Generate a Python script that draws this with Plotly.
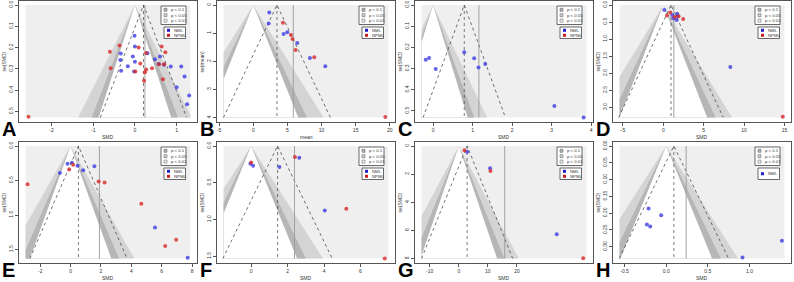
import plotly.graph_objects as go

W, H = 794, 282

# ---------------- data ----------------
# Panel A
A_nml_x = [-0.01, 0.0, -0.34, -0.35, -0.05, 0.0, -0.17, -0.33, -0.02, 0.30, 0.48, 0.60, 0.57, 0.86, 1.11, 1.19, 1.00, 1.30, 1.25, 0.70]
A_nml_se = [0.144, 0.195, 0.228, 0.258, 0.242, 0.266, 0.288, 0.308, 0.312, 0.227, 0.255, 0.242, 0.277, 0.289, 0.289, 0.336, 0.386, 0.425, 0.466, 0.280]
A_npml_x = [-0.37, -0.60, -0.58, 0.09, 0.27, 0.13, 0.27, 0.24, 0.41, 0.22, 0.64, 0.73, 0.58, 0.70, 0.67, 0.01, -2.55]
A_npml_se = [0.190, 0.219, 0.297, 0.200, 0.225, 0.275, 0.303, 0.316, 0.297, 0.355, 0.195, 0.222, 0.278, 0.278, 0.348, 0.312, 0.525]
A_est, A_adj = 0.206, 0.24
A_xlim, A_semax = [-2.62, 1.33], 0.528
A_xticks, A_xtext = [-2, -1, 0, 1], ["-2", "-1", "0", "1"]
A_yticks, A_ytext = [0, 0.1, 0.2, 0.3, 0.4, 0.5], ["0.0", "0.1", "0.2", "0.3", "0.4", "0.5"]

# Panel B
B_nml_x = [2.34, 2.25, 4.45, 4.98, 6.45, 8.30, 10.55]
B_nml_se = [0.27, 0.66, 1.03, 0.97, 1.35, 1.88, 2.18]
B_npml_x = [4.35, 5.52, 5.76, 6.20, 8.94, 19.35]
B_npml_se = [0.63, 1.07, 1.21, 1.60, 1.86, 3.98]
B_est, B_adj = 3.47, 5.86
B_xlim, B_semax = [-4.35, 19.8], 4.0
B_xticks, B_xtext = [-5, 0, 5, 10, 15, 20], ["-5", "0", "5", "10", "15", "20"]
B_yticks, B_ytext = [0, 1, 2, 3, 4], ["0", "1", "2", "3", "4"]

# Panel C
C_nml_x = [-0.185, -0.10, 0.067, 0.79, 1.04, 1.15, 1.32, 3.07, 3.81]
C_nml_se = [0.259, 0.250, 0.302, 0.223, 0.251, 0.295, 0.278, 0.477, 0.531]
C_npml_x = []
C_npml_se = []
C_est, C_adj = 0.79, 1.16
C_xlim, C_semax = [-0.29, 3.88], 0.531
C_xticks, C_xtext = [0, 1, 2, 3, 4], ["0", "1", "2", "3", "4"]
C_yticks, C_ytext = [0, 0.1, 0.2, 0.3, 0.4, 0.5], ["0.0", "0.1", "0.2", "0.3", "0.4", "0.5"]

# Panel D
D_nml_x = [0.12, 1.10, 1.72, 1.77, 1.27, 1.64, 8.30]
D_nml_se = [0.146, 0.29, 0.26, 0.32, 0.39, 0.44, 1.82]
D_npml_x = [0.86, 0.45, 1.40, 1.89, 2.46, 14.8]
D_npml_se = [0.22, 0.31, 0.35, 0.33, 0.41, 3.28]
D_est, D_adj = 0.95, 1.3
D_xlim, D_semax = [-5.42, 15.0], 3.3
D_xticks, D_xtext = [-5, 0, 5, 10, 15], ["-5", "0", "5", "10", "15"]
D_yticks, D_ytext = [0, 0.5, 1.0, 1.5, 2.0, 2.5, 3.0], ["0.0", "0.5", "1.0", "1.5", "2.0", "2.5", "3.0"]

# Panel E
E_nml_x = [-0.20, -0.70, 0.09, 0.46, 0.83, 1.57, 5.56, 7.71]
E_nml_se = [0.258, 0.390, 0.243, 0.287, 0.350, 0.292, 1.180, 1.620]
E_npml_x = [-0.09, 0.17, -2.83, 1.85, 2.24, 4.66, 6.95, 6.23]
E_npml_se = [0.340, 0.270, 0.555, 0.516, 0.530, 0.837, 1.360, 1.450]
E_est, E_adj = 0.52, 1.9
E_xlim, E_semax = [-2.96, 7.89], 1.63
E_xticks, E_xtext = [-2, 0, 2, 4, 6, 8], ["-2", "0", "2", "4", "6", "8"]
E_yticks, E_ytext = [0, 0.5, 1.0, 1.5], ["0.0", "0.5", "1.0", "1.5"]

# Panel F
F_nml_x = [-0.04, 0.11, 1.55, 2.64, 4.04]
F_nml_se = [0.242, 0.270, 0.284, 0.160, 0.878]
F_npml_x = [0.0, 2.40, 5.22, 7.33]
F_npml_se = [0.224, 0.151, 0.855, 1.530]
F_est, F_adj = 1.45, 2.38
F_xlim, F_semax = [-1.51, 7.53], 1.53
F_xticks, F_xtext = [0, 2, 4, 6], ["0", "2", "4", "6"]
F_yticks, F_ytext = [0, 0.5, 1.0, 1.5], ["0.0", "0.5", "1.0", "1.5"]

# Panel G
G_nml_x = [2.86, 10.77, 33.7]
G_nml_se = [0.40, 1.59, 6.27]
G_npml_x = [1.95, 10.88, 42.8]
G_npml_se = [0.31, 1.78, 7.98]
G_est, G_adj = 2.86, 15.8
G_xlim, G_semax = [-12.8, 43.9], 8.0
G_xticks, G_xtext = [-10, 0, 10, 20], ["-10", "0", "10", "20"]
G_yticks, G_ytext = [0, 2, 4, 6, 8], ["0", "2", "4", "6", "8"]

# Panel H
H_nml_x = [-0.212, -0.06, -0.232, -0.192, 1.39, 0.916]
H_nml_se = [0.186, 0.206, 0.234, 0.240, 0.282, 0.332]
H_npml_x = []
H_npml_se = []
H_est, H_adj = 0.092, 0.24
H_xlim, H_semax = [-0.56, 1.42], 0.335
H_xticks, H_xtext = [-0.5, 0.0, 0.5, 1.0, 1.5], ["-0.5", "0.0", "0.5", "1.0", "1.5"]
H_yticks, H_ytext = [0, 0.05, 0.10, 0.15, 0.20, 0.25, 0.30], ["0.00", "0.05", "0.10", "0.15", "0.20", "0.25", "0.30"]

panel_letters = ["A", "B", "C", "D", "E", "F", "G", "H"]
x_titles = ["SMD", "mean", "SMD", "SMD", "SMD", "SMD", "SMD", "SMD"]
y_titles = ["se(SMD)", "se(mean)", "se(SMD)", "se(SMD)", "se(SMD)", "se(SMD)", "se(SMD)", "se(SMD)"]
contour_labels = ["p < 0.1", "p < 0.05", "p < 0.01"]
group_labels = ["NML", "NPML"]
z_levels = [2.576, 1.96, 1.645]

panels = [
    (A_nml_x, A_nml_se, A_npml_x, A_npml_se, A_est, A_adj, A_xlim, A_semax, A_xticks, A_xtext, A_yticks, A_ytext),
    (B_nml_x, B_nml_se, B_npml_x, B_npml_se, B_est, B_adj, B_xlim, B_semax, B_xticks, B_xtext, B_yticks, B_ytext),
    (C_nml_x, C_nml_se, C_npml_x, C_npml_se, C_est, C_adj, C_xlim, C_semax, C_xticks, C_xtext, C_yticks, C_ytext),
    (D_nml_x, D_nml_se, D_npml_x, D_npml_se, D_est, D_adj, D_xlim, D_semax, D_xticks, D_xtext, D_yticks, D_ytext),
    (E_nml_x, E_nml_se, E_npml_x, E_npml_se, E_est, E_adj, E_xlim, E_semax, E_xticks, E_xtext, E_yticks, E_ytext),
    (F_nml_x, F_nml_se, F_npml_x, F_npml_se, F_est, F_adj, F_xlim, F_semax, F_xticks, F_xtext, F_yticks, F_ytext),
    (G_nml_x, G_nml_se, G_npml_x, G_npml_se, G_est, G_adj, G_xlim, G_semax, G_xticks, G_xtext, G_yticks, G_ytext),
    (H_nml_x, H_nml_se, H_npml_x, H_npml_se, H_est, H_adj, H_xlim, H_semax, H_xticks, H_xtext, H_yticks, H_ytext),
]
has_npml_legend = [True, True, True, True, True, True, True, False]

# ---------------- styling ----------------
BG = "#efefef"
SHADES = ["#d4d4d4", "#b6b6b6", "#ffffff"]
LEG_SQ = ["#b6b6b6", "#d4d4d4", "#f4f4f4"]
BLUE = "rgba(60,60,225,0.8)"
RED = "rgba(215,40,40,0.8)"
AXC = "#555555"
FONT = "Liberation Sans"

origins = [(0, 0), (198, 0), (396, 0), (594, 0), (0, 141), (198, 141), (396, 141), (594, 141)]


def px(x):
    return x / W


def py(y):
    return 1 - y / H


def clip_poly(pts, xl, xr):
    def clip(points, inside, inter):
        out = []
        n = len(points)
        for i in range(n):
            cur, prev = points[i], points[i - 1]
            if inside(cur):
                if not inside(prev):
                    out.append(inter(prev, cur))
                out.append(cur)
            elif inside(prev):
                out.append(inter(prev, cur))
        return out

    def ix(xv):
        def f(a, b):
            t = (xv - a[0]) / (b[0] - a[0])
            return (xv, a[1] + t * (b[1] - a[1]))
        return f

    pts = clip(pts, lambda p: p[0] >= xl, ix(xl))
    if pts:
        pts = clip(pts, lambda p: p[0] <= xr, ix(xr))
    return pts


fig = go.Figure()
shapes = []
annotations = []
layout_axes = {}

for i, (p, (ox, oy)) in enumerate(zip(panels, origins)):
    nx, ns, rx, rs, est, adj, xlim, semax, xt, xtt, yt, ytt = p
    k = "" if i == 0 else str(i + 1)
    xa, ya = "x" + k, "y" + k
    span = xlim[1] - xlim[0]
    xr = [xlim[0] - 0.04 * span, xlim[1] + 0.04 * span]
    yr = [semax * 1.04, -0.04 * semax]

    layout_axes["xaxis" + k] = dict(
        domain=[px(ox + 19), px(ox + 197)], range=xr, anchor=ya,
        tickvals=xt, ticktext=xtt, ticks="outside", ticklen=3, tickwidth=0.8,
        tickcolor=AXC, showline=True, linecolor=AXC, linewidth=0.8, mirror=True,
        showgrid=False, zeroline=False, tickfont=dict(size=5, color="#333", family=FONT),
    )
    layout_axes["yaxis" + k] = dict(
        domain=[py(oy + 122), py(oy + 0.5)], range=yr, anchor=xa,
        tickvals=yt, ticktext=ytt, ticks="outside", ticklen=3, tickwidth=0.8,
        tickcolor=AXC, showline=True, linecolor=AXC, linewidth=0.8, mirror=True,
        showgrid=False, zeroline=False, tickangle=-90,
        tickfont=dict(size=5, color="#333", family=FONT),
    )

    # background region
    shapes.append(dict(type="rect", xref=xa, yref=ya, x0=xlim[0], x1=xlim[1], y0=0, y1=semax,
                       fillcolor=BG, line=dict(width=0), layer="below"))

    # contour-enhanced regions centred at 0
    for z, col in zip(z_levels, SHADES):
        tri = [(0.0, 0.0), (z * semax, semax), (-z * semax, semax)]
        poly = clip_poly(tri, xlim[0], xlim[1])
        if poly:
            fig.add_trace(go.Scatter(
                x=[q[0] for q in poly] + [poly[0][0]], y=[q[1] for q in poly] + [poly[0][1]],
                xaxis=xa, yaxis=ya, mode="lines", fill="toself", fillcolor=col,
                line=dict(width=0), hoverinfo="skip", showlegend=False))

    # pseudo-confidence funnel around the estimate
    fig.add_trace(go.Scatter(
        x=[est - 1.96 * semax, est, est + 1.96 * semax], y=[semax, 0, semax],
        xaxis=xa, yaxis=ya, mode="lines", line=dict(color="#333", width=0.7, dash="dot"),
        hoverinfo="skip", showlegend=False))
    fig.add_trace(go.Scatter(
        x=[est, est], y=[0, semax], xaxis=xa, yaxis=ya, mode="lines",
        line=dict(color="#444", width=0.7, dash="dot"), hoverinfo="skip", showlegend=False))
    fig.add_trace(go.Scatter(
        x=[adj, adj], y=[0, semax], xaxis=xa, yaxis=ya, mode="lines",
        line=dict(color="#9a9a9a", width=0.9), hoverinfo="skip", showlegend=False))

    # study points
    if nx:
        fig.add_trace(go.Scatter(x=nx, y=ns, xaxis=xa, yaxis=ya, mode="markers",
                                 marker=dict(size=4, color=BLUE, line=dict(width=0)),
                                 hoverinfo="skip", showlegend=False))
    if rx:
        fig.add_trace(go.Scatter(x=rx, y=rs, xaxis=xa, yaxis=ya, mode="markers",
                                 marker=dict(size=4, color=RED, line=dict(width=0)),
                                 hoverinfo="skip", showlegend=False))

    # legend box 1 (contours)
    shapes.append(dict(type="rect", xref="paper", yref="paper",
                       x0=px(ox + 161), x1=px(ox + 186), y0=py(oy + 24.5), y1=py(oy + 6),
                       fillcolor="white", line=dict(color="#444", width=0.8)))
    for j, (lab, sq) in enumerate(zip(contour_labels, LEG_SQ)):
        yc = oy + 9.8 + j * 5.4
        shapes.append(dict(type="rect", xref="paper", yref="paper",
                           x0=px(ox + 164), x1=px(ox + 167), y0=py(yc + 1.5), y1=py(yc - 1.5),
                           fillcolor=sq, line=dict(color="#555", width=0.5)))
        annotations.append(dict(x=px(ox + 168.5), y=py(yc), xref="paper", yref="paper",
                                text=lab, showarrow=False, xanchor="left", yanchor="middle",
                                font=dict(size=4.3, color="#333", family=FONT)))

    # legend box 2 (groups)
    shapes.append(dict(type="rect", xref="paper", yref="paper",
                       x0=px(ox + 164), x1=px(ox + 185.5), y0=py(oy + 38.5), y1=py(oy + 27),
                       fillcolor="white", line=dict(color="#444", width=0.8)))
    groups = [(group_labels[0], "#2020d0"), (group_labels[1], "#c81e1e")] if has_npml_legend[i] else [(group_labels[0], "#2020d0")]
    for j, (lab, c) in enumerate(groups):
        yc = oy + (30.3 + j * 5.0 if len(groups) == 2 else 32.7)
        shapes.append(dict(type="rect", xref="paper", yref="paper",
                           x0=px(ox + 167), x1=px(ox + 170), y0=py(yc + 1.5), y1=py(yc - 1.5),
                           fillcolor=c, line=dict(width=0)))
        annotations.append(dict(x=px(ox + 172), y=py(yc), xref="paper", yref="paper",
                                text=lab, showarrow=False, xanchor="left", yanchor="middle",
                                font=dict(size=4.3, color="#333", family=FONT)))

    # axis titles
    annotations.append(dict(x=px(ox + 108), y=py(oy + 136.5), xref="paper", yref="paper",
                            text=x_titles[i], showarrow=False, xanchor="center", yanchor="middle",
                            font=dict(size=5, color="#333", family=FONT)))
    annotations.append(dict(x=px(ox + 3.5), y=py(oy + 62), xref="paper", yref="paper",
                            text=y_titles[i], showarrow=False, textangle=-90,
                            xanchor="center", yanchor="middle",
                            font=dict(size=5, color="#333", family=FONT)))
    # panel letter
    annotations.append(dict(x=px(ox + 0), y=py(oy + 129), xref="paper", yref="paper",
                            text="<b>" + panel_letters[i] + "</b>", showarrow=False,
                            xanchor="left", yanchor="middle",
                            font=dict(size=20, color="black", family=FONT)))

fig.update_layout(
    width=W, height=H, margin=dict(l=0, r=0, t=0, b=0),
    paper_bgcolor="white", plot_bgcolor="white",
    shapes=shapes, annotations=annotations, showlegend=False,
    **layout_axes,
)

fig.write_html("out.html")
